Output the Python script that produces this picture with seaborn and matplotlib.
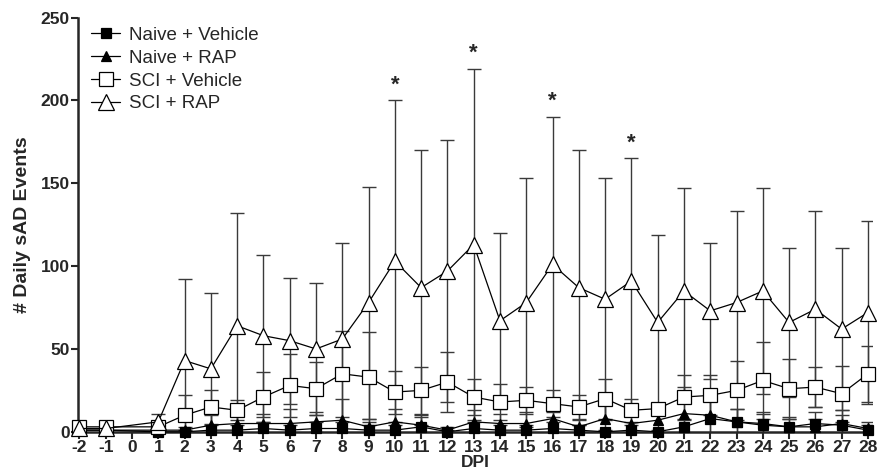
import seaborn as sns
import matplotlib.pyplot as plt
import numpy as np

# days post injury (no recording at day 0)
days = [-2, -1] + list(range(1, 29))

naive_veh = [1, 1, 0, 0, 1, 1, 2, 1, 2, 2, 1, 1, 3, 0, 2, 1, 1, 2, 1, 0, 1, 0, 3, 8, 6, 5, 3, 5, 4, 1]
naive_veh_sd = [1, 1, 1, 1, 3, 3, 4, 3, 4, 4, 3, 3, 6, 1, 4, 3, 3, 4, 3, 1, 3, 1, 4, 11, 8, 7, 6, 7, 6, 3]

naive_rap = [1, 1, 1, 1, 4, 5, 5, 5, 6, 7, 3, 6, 4, 1, 6, 5, 5, 8, 3, 8, 5, 7, 11, 10, 6, 4, 3, 3, 5, 2]
naive_rap_sd = [1, 1, 3, 2, 6, 7, 6, 9, 6, 13, 5, 8, 6, 2, 7, 6, 7, 9, 4, 10, 7, 8, 16, 13, 8, 7, 5, 5, 8, 4]

sci_veh = [3, 3, 3, 10, 15, 13, 21, 28, 26, 35, 33, 24, 25, 30, 21, 18, 19, 17, 15, 20, 13, 14, 21, 22, 25, 31, 26, 27, 23, 35]
sci_veh_sd = [2, 2, 3, 12, 10, 6, 15, 19, 16, 26, 27, 13, 14, 18, 11, 11, 8, 8, 7, 12, 7, 3, 13, 12, 18, 23, 18, 12, 17, 17]

sci_rap = [2, 2, 6, 43, 38, 64, 58, 55, 50, 56, 78, 103, 87, 97, 113, 67, 78, 101, 87, 80, 91, 66, 85, 73, 78, 85, 66, 74, 62, 72]
sci_rap_sd = [2, 2, 5, 49, 46, 68, 49, 38, 40, 58, 70, 97, 83, 79, 106, 53, 75, 89, 83, 73, 74, 53, 62, 41, 55, 62, 45, 59, 49, 55]

# significance marks
star_days = [10, 13, 16, 19]

series = [
    ("Naive + Vehicle", naive_veh, naive_veh_sd, "s", "black", 7),
    ("Naive + RAP", naive_rap, naive_rap_sd, "^", "black", 7),
    ("SCI + Vehicle", sci_veh, sci_veh_sd, "s", "white", 10),
    ("SCI + RAP", sci_rap, sci_rap_sd, "^", "white", 11),
]

sns.set_style("ticks")
plt.rcParams['font.family'] = ['Liberation Sans', 'DejaVu Sans']
plt.rcParams['axes.unicode_minus'] = False

fig, ax = plt.subplots(figsize=(8.78, 4.74), dpi=100)
fig.subplots_adjust(left=0.089, right=0.993, bottom=0.089, top=0.963)

for name, vals, sd, mk, fc, ms in series:
    ax.errorbar(days, vals, yerr=sd, fmt="none", ecolor="#3a3a3a", elinewidth=1.0,
                capsize=5, capthick=1.0, zorder=2)

for name, vals, sd, mk, fc, ms in series:
    sns.lineplot(x=days, y=vals, ax=ax, color="black", linewidth=0.9, marker=mk,
                 markersize=ms, markerfacecolor=fc, markeredgecolor="black",
                 markeredgewidth=0.9, label=name, zorder=3, clip_on=False)

for d in star_days:
    i = days.index(d)
    ax.text(d, sci_rap[i] + sci_rap_sd[i] + 3, "*", ha="center", va="bottom",
            fontsize=16, fontweight="bold")

ax.set_xlim(-2.05, 28.15)
ax.set_ylim(0, 250)
ax.set_xticks(range(-2, 29))
ax.set_yticks(range(0, 251, 50))
ax.tick_params(axis="both", direction="out", width=1.5, length=5, labelsize=12.5)
ax.tick_params(axis="x", pad=1)
ax.tick_params(axis="y", pad=1)
for lab in ax.get_xticklabels() + ax.get_yticklabels():
    lab.set_fontweight("bold")

sns.despine(ax=ax)
for sp in ("left", "bottom"):
    ax.spines[sp].set_linewidth(1.8)

ax.set_xlabel("DPI", fontsize=12.5, fontweight="bold", labelpad=0)
ax.set_ylabel("# Daily sAD Events", fontsize=14, fontweight="bold", labelpad=7)

leg = ax.legend(loc="upper left", bbox_to_anchor=(0.005, 1.0), frameon=False, fontsize=13.5,
                handlelength=1.5, handletextpad=0.5, labelspacing=0.3, borderaxespad=0.1)

fig.savefig("out.png", dpi=100)
